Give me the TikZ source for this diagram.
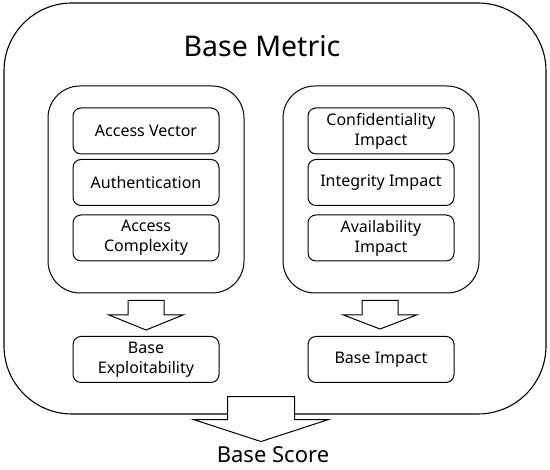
\documentclass[tikz,border=0pt]{standalone}
\usepackage{fontspec}
\setmainfont{Noto Sans}
\usetikzlibrary{calc}

% block arrow: start, tip, shaft half width, head half width, head length
\newcommand{\blockarrow}[5]{%
  \draw[line width=1pt, fill=white] let \p1=(#1), \p2=(#2) in
    (\x1-#3,\y1) -- (\x1+#3,\y1) -- (\x1+#3,\y2+#5) -- (\x1+#4,\y2+#5)
    -- (\x1,\y2) -- (\x1-#4,\y2+#5) -- (\x1-#3,\y2+#5) -- cycle;}

\begin{document}
\begin{tikzpicture}[x=1pt, y=1pt,
    outerbox/.style={draw, line width=1.1pt, rounded corners=68pt, minimum width=542pt, minimum height=411pt},
    group/.style={draw, line width=1pt, rounded corners=32pt, minimum width=196pt, minimum height=207pt},
    item/.style={draw, line width=1pt, rounded corners=8pt, minimum width=146pt, minimum height=46pt,
      align=center, font=\fontsize{16}{20}\selectfont}]
  \useasboundingbox (0,0) rectangle (550,470);
  \node[outerbox] (outer) at (275,261.5) {};
  \node[font=\fontsize{28.5}{32}\selectfont] (title) at (262,424) {Base Metric};
  \node[group] (lgrp) at (146,280.5) {};
  \node[group] (rgrp) at (381,280.5) {};
  \node[item] (av)   at (146,339)   {Access Vector};
  \node[item] (au)   at (146,287.5) {Authentication};
  \node[item] (ac)   at (146,232)   {Access\\Complexity};
  \node[item] (ci)   at (381,339)   {Confidentiality\\Impact};
  \node[item] (ii)   at (381,287.5) {Integrity Impact};
  \node[item] (ai)   at (381,232)   {Availability\\Impact};
  \node[item] (bexp) at (146,110.5) {Base\\Exploitability};
  \node[item] (bimp) at (381,110.5) {Base Impact};
  \node[font=\fontsize{22}{25}\selectfont] (score) at (273,15) {Base Score};
  \coordinate (ltop) at ($(lgrp.south)+(0,-7)$);
  \coordinate (ltip) at ($(bexp.north)+(0,6)$);
  \coordinate (rtop) at ($(rgrp.south)+(-1,-7)$);
  \coordinate (rtip) at ($(bimp.north)+(-1,7)$);
  \coordinate (btop) at ($(outer.south)+(-14,18)$);
  \coordinate (btip) at ($(outer.south)+(-14,-27)$);
  \blockarrow{ltop}{ltip}{18pt}{37pt}{15pt}
  \blockarrow{rtop}{rtip}{18pt}{36.5pt}{14pt}
  \blockarrow{btop}{btip}{33.5pt}{67.5pt}{22pt}
\end{tikzpicture}
\end{document}
